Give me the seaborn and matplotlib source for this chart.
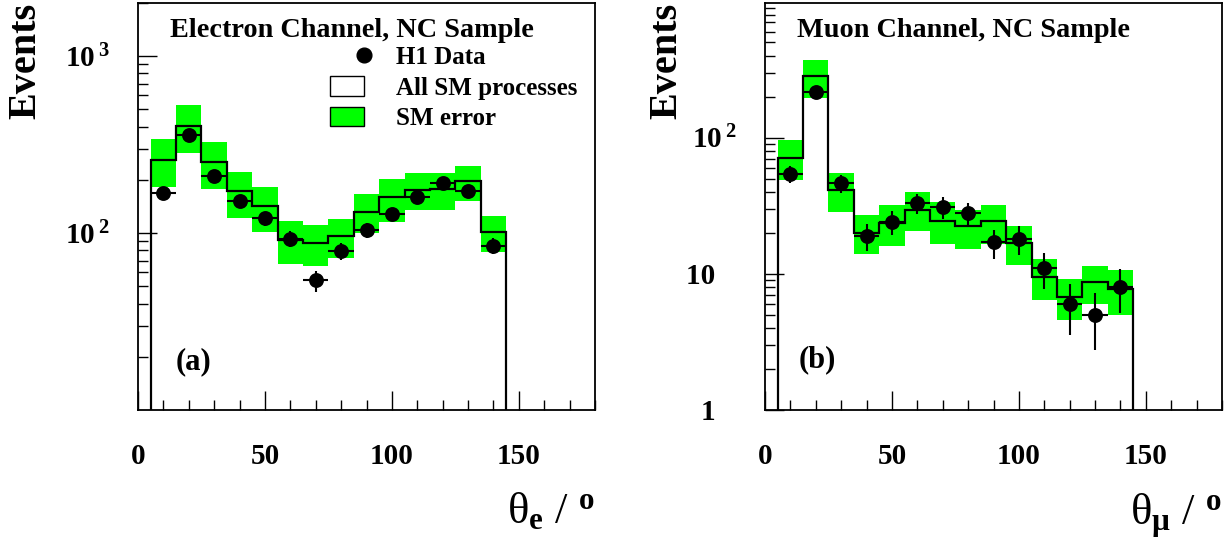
import numpy as np
import seaborn as sns
import matplotlib
matplotlib.use('Agg')
import matplotlib.pyplot as plt
from matplotlib.lines import Line2D
from matplotlib.patches import Patch
from matplotlib.legend_handler import HandlerLine2D
from matplotlib.ticker import FixedLocator, FixedFormatter, LogLocator, NullFormatter, MultipleLocator

# bins in polar angle (degrees)
bin_edges = np.arange(5, 146, 10)
theta_centres = [10, 20, 30, 40, 50, 60, 70, 80, 90, 100, 110, 120, 130, 140]

# electron channel
e_data = [168, 357, 211, 152, 121, 93, 54, 79, 104, 128, 161, 192, 172, 85]
e_sm = [260, 405, 251, 172, 143, 92, 88, 96, 132, 161, 176, 178, 196, 102]
e_sm_lo = [183, 284, 177, 122, 102, 67, 65, 72, 100, 116, 135, 135, 151, 78]
e_sm_hi = [341, 527, 327, 223, 183, 117, 111, 120, 166, 202, 218, 218, 240, 125]

# muon channel
mu_data = [54, 217, 46, 19, 24, 33, 31, 28, 17, 18, 11, 6, 5, 8]
mu_sm = [71, 285, 41, 20, 23.6, 29.6, 24.6, 22.3, 24.2, 16.9, 9.5, 6.8, 8.75, 7.7]
mu_sm_lo = [49, 196, 28.4, 13.9, 16, 20.5, 16.6, 15.1, 16.6, 11.6, 6.4, 4.6, 6.0, 5.0]
mu_sm_hi = [96, 373, 55, 27.1, 32, 39.7, 33.6, 29.6, 32.2, 22.6, 12.8, 9.1, 11.4, 10.6]

sns.set_theme(style='white')
plt.rcParams['font.family'] = ['Liberation Serif', 'DejaVu Serif']
plt.rcParams['font.weight'] = 'bold'
plt.rcParams['text.color'] = 'black'
plt.rcParams['axes.labelcolor'] = 'black'
plt.rcParams['xtick.color'] = 'black'
plt.rcParams['ytick.color'] = 'black'
plt.rcParams['mathtext.fontset'] = 'custom'
plt.rcParams['mathtext.rm'] = 'Liberation Serif'
plt.rcParams['mathtext.it'] = 'Liberation Serif:italic'
plt.rcParams['mathtext.bf'] = 'Liberation Serif:bold'

GREEN = '#00ff00'

fig = plt.figure(figsize=(12.25, 5.43), dpi=100)
ax_e = fig.add_axes([138 / 1225, 133 / 543, 457 / 1225, 407 / 543])
ax_m = fig.add_axes([765 / 1225, 133 / 543, 457 / 1225, 407 / 543])


def draw_panel(ax, data, sm, lo, hi, ylim):
    ax.bar(theta_centres, np.subtract(hi, lo), bottom=lo, width=10,
           color=GREEN, linewidth=0, zorder=1)
    ax.stairs(sm, bin_edges, baseline=ylim[0] * 0.1, color='black', lw=1.6, zorder=2)
    ax.errorbar(theta_centres, data, yerr=np.sqrt(data), xerr=5, fmt='none',
                ecolor='black', elinewidth=1.5, zorder=3)
    sns.scatterplot(x=theta_centres, y=data, ax=ax, color='black', s=115,
                    edgecolor='black', linewidth=0, zorder=4, legend=False)

    ax.set_xlim(0, 180)
    ax.set_yscale('log')
    ax.set_ylim(*ylim)
    ax.xaxis.set_major_locator(MultipleLocator(50))
    ax.xaxis.set_minor_locator(MultipleLocator(10))
    ax.yaxis.set_minor_locator(LogLocator(subs=np.arange(2, 10)))
    ax.yaxis.set_minor_formatter(NullFormatter())
    ax.tick_params(which='both', bottom=True, left=True, top=False, right=False,
                   direction='in', color='black')
    ax.tick_params(which='major', length=14, width=1, labelsize=21)
    ax.tick_params(which='minor', length=7, width=1)
    ax.tick_params(axis='x', pad=24)
    ax.tick_params(axis='y', pad=20)
    for s in ax.spines.values():
        s.set_color('black')
        s.set_linewidth(1.3)


draw_panel(ax_e, e_data, e_sm, e_sm_lo, e_sm_hi, (10, 2000))
draw_panel(ax_m, mu_data, mu_sm, mu_sm_lo, mu_sm_hi, (1.0, 972))

ax_e.yaxis.set_major_locator(FixedLocator([100, 1000]))
ax_e.yaxis.set_major_formatter(FixedFormatter([r'$\mathbf{10}^{\;\mathbf{2}}$',
                                               r'$\mathbf{10}^{\;\mathbf{3}}$']))
ax_m.yaxis.set_major_locator(FixedLocator([1, 10, 100]))
ax_m.yaxis.set_major_formatter(FixedFormatter(['1   ', '10   ', r'$\mathbf{10}^{\;\mathbf{2}}$']))

for ax, yl_x, sub in [(ax_e, -0.205, r'$_{\mathbf{e}}$'), (ax_m, -0.175, r'$_{\mathrm{\mu}}$')]:
    ax.set_ylabel('Events', fontsize=29, fontweight='bold', loc='top')
    ax.yaxis.set_label_coords(yl_x, 1.0)
    ax.set_xlabel('θ' + sub + ' / ' + r'$^{\mathbf{o}}$', fontsize=32,
                  fontweight='normal', loc='right')
    ax.xaxis.set_label_coords(1.0, -0.2)

ax_e.text(0.07, 0.932, 'Electron Channel, NC Sample', transform=ax_e.transAxes,
          fontsize=20.3, fontweight='bold', va='center', ha='left')
ax_m.text(0.07, 0.932, 'Muon Channel, NC Sample', transform=ax_m.transAxes,
          fontsize=20.3, fontweight='bold', va='center', ha='left')
ax_e.text(0.083, 0.118, '(a)', transform=ax_e.transAxes, fontsize=22,
          fontweight='bold', va='center', ha='left')
ax_m.text(0.074, 0.123, '(b)', transform=ax_m.transAxes, fontsize=22,
          fontweight='bold', va='center', ha='left')


class MarkerAtRight(HandlerLine2D):
    # put the data marker at the right end of the legend key, as in the original
    def get_xdata(self, legend, xdescent, ydescent, width, height, fontsize):
        x = np.array([-xdescent + width, -xdescent + width])
        return x, x[:1]


data_handle = Line2D([], [], marker='o', color='black', linestyle='none', markersize=10.6)
handles = [
    data_handle,
    Patch(facecolor='white', edgecolor='black', linewidth=1),
    Patch(facecolor=GREEN, edgecolor='black', linewidth=1),
]
labels = ['H1 Data', 'All SM processes', 'SM error']
ax_e.legend(handles, labels, loc='upper left', bbox_to_anchor=(0.42, 0.895),
            frameon=False, prop={'family': 'Liberation Serif', 'weight': 'bold', 'size': 18},
            handlelength=1.36, handleheight=0.8, handletextpad=1.3,
            labelspacing=0.3, borderpad=0, borderaxespad=0,
            handler_map={data_handle: MarkerAtRight(numpoints=1)})

fig.savefig('out.png', dpi=100)
